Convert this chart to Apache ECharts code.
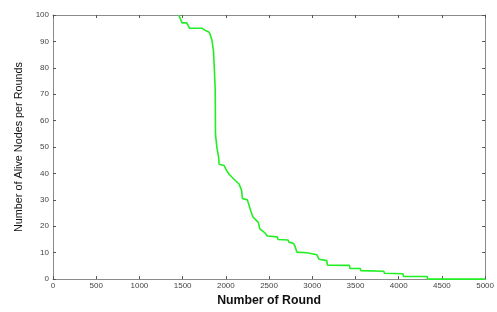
<!DOCTYPE html>
<html>
<head>
<meta charset="utf-8">
<script src="https://cdn.jsdelivr.net/npm/echarts@6/dist/echarts.min.js"></script>
<style>
html, body { margin: 0; padding: 0; background: #fff; }
#chart { width: 497px; height: 312px; }
</style>
</head>
<body>
<div id="chart"></div>
<script>
// rounds and alive nodes (corners of the steps)
var rounds = [1455, 1494, 1547, 1580, 1724, 1770, 1808, 1839, 1858, 1866, 1877, 1880, 1896, 1915, 1923,
    1980, 2010, 2038, 2095, 2153, 2183, 2191, 2249, 2287, 2314, 2375, 2394, 2452, 2479, 2594,
    2605, 2720, 2730, 2785, 2805, 2823, 2938, 2945, 3053, 3080, 3168, 3176, 3430, 3437, 3555,
    3563, 3828, 3835, 4049, 4055, 4329, 4335, 5000];
var alive = [100, 97, 97, 95, 95, 94, 93.5, 90.5, 86, 80, 72, 55, 50, 46.5, 43.5,
    43, 41, 39.7, 37.8, 36, 33.5, 30.5, 30, 26, 23.5, 21.5, 19, 17.5, 16.3, 16,
    15, 14.8, 14, 13.5, 12, 10.2, 10, 9.5, 9.2, 7.5, 7, 5.3, 5.2, 4, 4,
    3.2, 3, 2.2, 2, 1, 1, 0, 0];
var xTicks = { min: 0, max: 5000, step: 500 };
var yTicks = { min: 0, max: 100, step: 10 };

var pts = [];
for (var i = 0; i < rounds.length; i++) {
    pts.push([rounds[i], alive[i]]);
}

var frame = { show: true, onZero: false, lineStyle: { color: '#8a8a8a', width: 1 } };
var tick = { show: true, inside: true, length: 3, lineStyle: { color: '#555' } };
var lbl = { fontFamily: 'Liberation Sans, Arial', fontSize: 8, color: '#444',
    formatter: function (v) { return String(v); } };

var chart = echarts.init(document.getElementById('chart'));
chart.setOption({
    animation: false,
    grid: { left: 53, right: 9, top: 15, bottom: 26 },
    xAxis: [{
        type: 'value', min: xTicks.min, max: xTicks.max, interval: xTicks.step,
        position: 'bottom',
        axisLine: frame, axisTick: tick, splitLine: { show: false },
        axisLabel: Object.assign({ margin: 3 }, lbl),
        name: 'Number of Round', nameLocation: 'middle', nameGap: 11,
        nameTextStyle: { fontFamily: 'Liberation Sans, Arial', fontSize: 12.3, fontWeight: 'bold', color: '#111' }
    }, {
        type: 'value', min: xTicks.min, max: xTicks.max, interval: xTicks.step,
        position: 'top',
        axisLine: frame, axisTick: tick, splitLine: { show: false }, axisLabel: { show: false }
    }],
    yAxis: [{
        type: 'value', min: yTicks.min, max: yTicks.max, interval: yTicks.step,
        position: 'left',
        axisLine: frame, axisTick: tick, splitLine: { show: false },
        axisLabel: Object.assign({ margin: 4 }, lbl),
        name: 'Number of Alive Nodes per Rounds', nameLocation: 'middle', nameGap: 25,
        nameTextStyle: { fontFamily: 'Liberation Sans, Arial', fontSize: 10.8, color: '#111' }
    }, {
        type: 'value', min: yTicks.min, max: yTicks.max, interval: yTicks.step,
        position: 'right',
        axisLine: frame, axisTick: tick, splitLine: { show: false }, axisLabel: { show: false }
    }],
    series: [{
        type: 'line',
        data: pts,
        showSymbol: false,
        lineStyle: { color: '#22ee22', width: 1.6 },
        z: 1
    }]
});
</script>
</body>
</html>
